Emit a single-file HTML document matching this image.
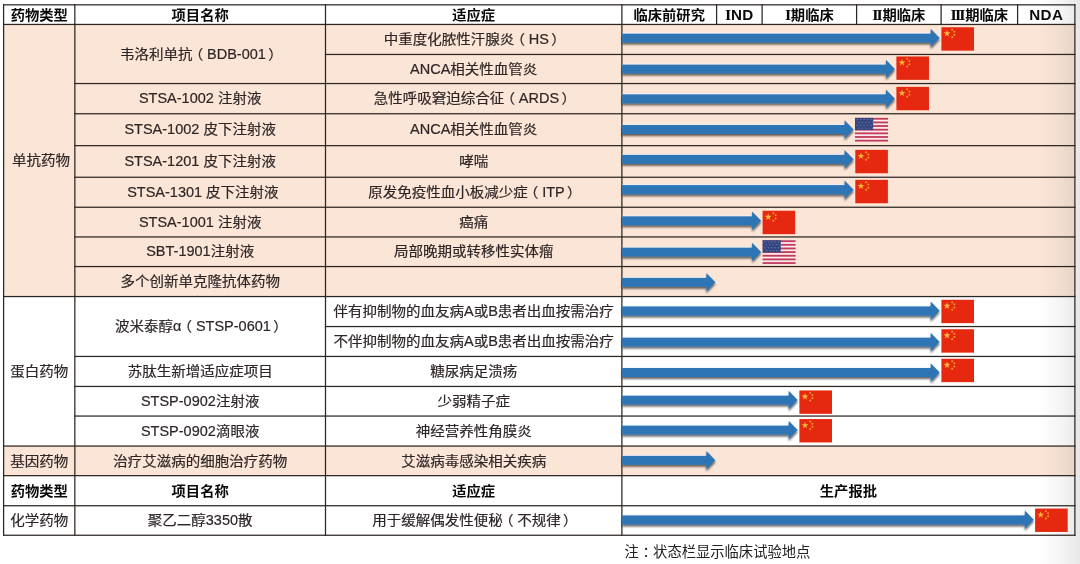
<!DOCTYPE html>
<html lang="zh-CN"><head><meta charset="utf-8"><title>研发管线</title>
<style>
html,body{margin:0;padding:0;background:#fff}
body{width:1080px;height:564px;overflow:hidden;position:relative;font-family:"Liberation Sans","Noto Sans CJK SC",sans-serif}
#pg{position:absolute;left:0;top:0;width:1080px;height:564px;overflow:hidden;background:#fff;filter:blur(0.4px)}
.r,.ln,.t,.h,.ov,.note,.edge{position:absolute}
.ln{background:#2d2723}
.t,.h{display:flex;align-items:center;justify-content:center;white-space:nowrap;line-height:1}
.t{font-size:14.5px;color:#2e2626;-webkit-text-stroke:0.2px #2e2626}
.h{font-size:14.3px;font-weight:bold;color:#0b0908}
.h i{font-family:"Liberation Serif",serif;font-style:normal;font-weight:bold;font-size:16px;letter-spacing:-1.9px;margin-right:1.6px}
.h u{font-family:"Liberation Sans",sans-serif;text-decoration:none;font-size:15.2px;letter-spacing:0.35px}
.h span{position:relative;top:0.4px;display:inline-block;transform:scaleY(0.935)}
.t span{display:inline-block;transform:scaleY(0.925)}
.t em{font-style:normal;display:inline-block;transform:scaleY(1.15);transform-origin:50% 85%}
.t b,.note b{font-weight:normal;position:relative}
.note b{left:3.6px}
.t b.pl{left:-3.8px}
.t b.pr{left:2.3px}
.note{left:624.5px;top:544px;font-size:14.3px;line-height:16px;color:#242020;white-space:nowrap}
.edge{right:0;top:0;width:42px;height:564px;background:linear-gradient(to right,rgba(110,110,110,0),rgba(110,110,110,0.07) 55%,rgba(110,110,110,0.17))}
</style></head><body><div id="pg">
<div class="r" style="left:3.60px;top:24.45px;width:1071.30px;height:272.10px;background:#fbe5d6"></div>
<div class="r" style="left:3.60px;top:446.05px;width:1071.30px;height:29.60px;background:#fbe5d6"></div>
<div class="h" style="left:3.60px;top:4.85px;width:71.25px;height:19.60px"><span>药物类型</span></div>
<div class="h" style="left:74.85px;top:4.85px;width:250.65px;height:19.60px"><span>项目名称</span></div>
<div class="h" style="left:325.50px;top:4.85px;width:296.40px;height:19.60px"><span>适应症</span></div>
<div class="h" style="left:621.90px;top:4.85px;width:94.70px;height:19.60px"><span>临床前研究</span></div>
<div class="h" style="left:716.60px;top:4.85px;width:45.50px;height:19.60px"><span><i>I</i><u>ND</u></span></div>
<div class="h" style="left:762.10px;top:4.85px;width:94.50px;height:19.60px"><span><i>I</i>期临床</span></div>
<div class="h" style="left:856.60px;top:4.85px;width:84.50px;height:19.60px"><span><i>II</i>期临床</span></div>
<div class="h" style="left:941.10px;top:4.85px;width:76.50px;height:19.60px"><span><i>III</i>期临床</span></div>
<div class="h" style="left:1017.60px;top:4.85px;width:57.30px;height:19.60px"><span><u>NDA</u></span></div>
<div class="h" style="left:3.60px;top:475.65px;width:71.25px;height:30.10px"><span>药物类型</span></div>
<div class="h" style="left:74.85px;top:475.65px;width:250.65px;height:30.10px"><span>项目名称</span></div>
<div class="h" style="left:325.50px;top:475.65px;width:296.40px;height:30.10px"><span>适应症</span></div>
<div class="h" style="left:621.90px;top:475.65px;width:453.00px;height:30.10px"><span>生产报批</span></div>
<div class="t" style="left:7.20px;top:24.45px;width:67.65px;height:272.10px"><span>单抗药物</span></div>
<div class="t" style="left:3.60px;top:296.55px;width:71.25px;height:149.50px"><span>蛋白药物</span></div>
<div class="t" style="left:3.60px;top:446.05px;width:71.25px;height:29.60px"><span>基因药物</span></div>
<div class="t" style="left:3.60px;top:505.75px;width:71.25px;height:29.50px"><span>化学药物</span></div>
<div class="t" style="left:74.85px;top:24.45px;width:250.65px;height:59.10px"><span>韦洛利单抗<b class="pl">（</b><em>BDB-001</em><b class="pr">）</b></span></div>
<div class="t" style="left:74.85px;top:83.55px;width:250.65px;height:30.20px"><span><em>STSA-1002</em> 注射液</span></div>
<div class="t" style="left:74.85px;top:113.75px;width:250.65px;height:31.90px"><span><em>STSA-1002</em> 皮下注射液</span></div>
<div class="t" style="left:74.85px;top:145.65px;width:250.65px;height:31.60px"><span><em>STSA-1201</em> 皮下注射液</span></div>
<div class="t" style="left:80.25px;top:177.25px;width:245.25px;height:30.00px"><span><em>STSA-1301</em> 皮下注射液</span></div>
<div class="t" style="left:74.85px;top:207.25px;width:250.65px;height:29.70px"><span><em>STSA-1001</em> 注射液</span></div>
<div class="t" style="left:74.85px;top:236.95px;width:250.65px;height:29.60px"><span><em>SBT-1901</em>注射液</span></div>
<div class="t" style="left:74.85px;top:266.55px;width:250.65px;height:30.00px"><span>多个创新单克隆抗体药物</span></div>
<div class="t" style="left:74.85px;top:296.55px;width:250.65px;height:59.90px"><span>波米泰醇<em>α</em><b class="pl">（</b><em>STSP-0601</em><b class="pr">）</b></span></div>
<div class="t" style="left:74.85px;top:356.45px;width:250.65px;height:30.00px"><span>苏肽生新增适应症项目</span></div>
<div class="t" style="left:74.85px;top:386.45px;width:250.65px;height:29.60px"><span><em>STSP-0902</em>注射液</span></div>
<div class="t" style="left:74.85px;top:416.05px;width:250.65px;height:30.00px"><span><em>STSP-0902</em>滴眼液</span></div>
<div class="t" style="left:74.85px;top:446.05px;width:250.65px;height:29.60px"><span>治疗艾滋病的细胞治疗药物</span></div>
<div class="t" style="left:74.85px;top:505.75px;width:250.65px;height:29.50px"><span>聚乙二醇<em>3350</em>散</span></div>
<div class="t" style="left:325.50px;top:24.45px;width:296.40px;height:30.00px"><span>中重度化脓性汗腺炎<b class="pl">（</b><em>HS</em><b class="pr">）</b></span></div>
<div class="t" style="left:325.50px;top:54.45px;width:296.40px;height:29.10px"><span><em>ANCA</em>相关性血管炎</span></div>
<div class="t" style="left:325.50px;top:83.55px;width:296.40px;height:30.20px"><span>急性呼吸窘迫综合征<b class="pl">（</b><em>ARDS</em><b class="pr">）</b></span></div>
<div class="t" style="left:325.50px;top:113.75px;width:296.40px;height:31.90px"><span><em>ANCA</em>相关性血管炎</span></div>
<div class="t" style="left:325.50px;top:145.65px;width:296.40px;height:31.60px"><span>哮喘</span></div>
<div class="t" style="left:325.50px;top:177.25px;width:296.40px;height:30.00px"><span>原发免疫性血小板减少症<b class="pl">（</b><em>ITP</em><b class="pr">）</b></span></div>
<div class="t" style="left:325.50px;top:207.25px;width:296.40px;height:29.70px"><span>癌痛</span></div>
<div class="t" style="left:325.50px;top:236.95px;width:296.40px;height:29.60px"><span>局部晚期或转移性实体瘤</span></div>
<div class="t" style="left:325.50px;top:296.55px;width:296.40px;height:30.00px"><span>伴有抑制物的血友病<em>A</em>或<em>B</em>患者出血按需治疗</span></div>
<div class="t" style="left:325.50px;top:326.55px;width:296.40px;height:29.90px"><span>不伴抑制物的血友病<em>A</em>或<em>B</em>患者出血按需治疗</span></div>
<div class="t" style="left:325.50px;top:356.45px;width:296.40px;height:30.00px"><span>糖尿病足溃疡</span></div>
<div class="t" style="left:325.50px;top:386.45px;width:296.40px;height:29.60px"><span>少弱精子症</span></div>
<div class="t" style="left:325.50px;top:416.05px;width:296.40px;height:30.00px"><span>神经营养性角膜炎</span></div>
<div class="t" style="left:325.50px;top:446.05px;width:296.40px;height:29.60px"><span>艾滋病毒感染相关疾病</span></div>
<div class="t" style="left:325.50px;top:505.75px;width:296.40px;height:29.50px"><span>用于缓解偶发性便秘<b class="pl">（</b>不规律<b class="pr">）</b></span></div>
<div class="edge"></div>
<svg class="ov" width="1080" height="564" viewBox="0 0 1080 564">
<defs>
<filter id="sh" x="-5%" y="-50%" width="110%" height="220%"><feGaussianBlur in="SourceAlpha" stdDeviation="1.1"/><feOffset dx="0.3" dy="1.6"/><feComponentTransfer><feFuncA type="linear" slope="0.62"/></feComponentTransfer><feMerge><feMergeNode/><feMergeNode in="SourceGraphic"/></feMerge></filter>
<g id="cn"><rect width="32.6" height="23.4" fill="#e5280f"/><polygon fill="#fab83a" points="5.6,2.6 6.45,5.1 9.1,5.1 6.95,6.7 7.75,9.2 5.6,7.65 3.45,9.2 4.25,6.7 2.1,5.1 4.75,5.1"/><circle cx="10.8" cy="2.4" r="1" fill="#f59a28"/><circle cx="13" cy="4.6" r="1" fill="#f59a28"/><circle cx="13" cy="7.8" r="1" fill="#f59a28"/><circle cx="10.8" cy="10" r="1" fill="#f59a28"/></g>
<g id="us"><rect width="33" height="23.7" fill="#fbe9ec"/><rect y="0.00" width="33" height="1.82" fill="#c23b5a"/><rect y="3.65" width="33" height="1.82" fill="#c23b5a"/><rect y="7.29" width="33" height="1.82" fill="#c23b5a"/><rect y="10.94" width="33" height="1.82" fill="#c23b5a"/><rect y="14.58" width="33" height="1.82" fill="#c23b5a"/><rect y="18.23" width="33" height="1.82" fill="#c23b5a"/><rect y="21.88" width="33" height="1.82" fill="#c23b5a"/><rect width="18.2" height="12.1" fill="#34457f"/><circle cx="2.20" cy="1.70" r="0.75" fill="#8f9bc4" opacity="0.55"/><circle cx="5.65" cy="1.70" r="0.75" fill="#8f9bc4" opacity="0.55"/><circle cx="9.10" cy="1.70" r="0.75" fill="#8f9bc4" opacity="0.55"/><circle cx="12.55" cy="1.70" r="0.75" fill="#8f9bc4" opacity="0.55"/><circle cx="16.00" cy="1.70" r="0.75" fill="#8f9bc4" opacity="0.55"/><circle cx="3.90" cy="4.60" r="0.75" fill="#8f9bc4" opacity="0.55"/><circle cx="7.35" cy="4.60" r="0.75" fill="#8f9bc4" opacity="0.55"/><circle cx="10.80" cy="4.60" r="0.75" fill="#8f9bc4" opacity="0.55"/><circle cx="14.25" cy="4.60" r="0.75" fill="#8f9bc4" opacity="0.55"/><circle cx="17.70" cy="4.60" r="0.75" fill="#8f9bc4" opacity="0.55"/><circle cx="2.20" cy="7.50" r="0.75" fill="#8f9bc4" opacity="0.55"/><circle cx="5.65" cy="7.50" r="0.75" fill="#8f9bc4" opacity="0.55"/><circle cx="9.10" cy="7.50" r="0.75" fill="#8f9bc4" opacity="0.55"/><circle cx="12.55" cy="7.50" r="0.75" fill="#8f9bc4" opacity="0.55"/><circle cx="16.00" cy="7.50" r="0.75" fill="#8f9bc4" opacity="0.55"/><circle cx="3.90" cy="10.40" r="0.75" fill="#8f9bc4" opacity="0.55"/><circle cx="7.35" cy="10.40" r="0.75" fill="#8f9bc4" opacity="0.55"/><circle cx="10.80" cy="10.40" r="0.75" fill="#8f9bc4" opacity="0.55"/><circle cx="14.25" cy="10.40" r="0.75" fill="#8f9bc4" opacity="0.55"/><circle cx="17.70" cy="10.40" r="0.75" fill="#8f9bc4" opacity="0.55"/></g>
</defs>
<g fill="#2d2723"><rect x="2.98" y="4.22" width="1072.55" height="1.25"/><rect x="2.98" y="23.82" width="1072.55" height="1.25"/><rect x="324.88" y="53.83" width="750.65" height="1.25"/><rect x="74.22" y="82.92" width="1001.30" height="1.25"/><rect x="74.22" y="113.12" width="1001.30" height="1.25"/><rect x="74.22" y="145.03" width="1001.30" height="1.25"/><rect x="74.22" y="176.62" width="1001.30" height="1.25"/><rect x="74.22" y="206.62" width="1001.30" height="1.25"/><rect x="74.22" y="236.32" width="1001.30" height="1.25"/><rect x="74.22" y="265.93" width="1001.30" height="1.25"/><rect x="2.98" y="295.93" width="1072.55" height="1.25"/><rect x="324.88" y="325.93" width="750.65" height="1.25"/><rect x="74.22" y="355.82" width="1001.30" height="1.25"/><rect x="74.22" y="385.82" width="1001.30" height="1.25"/><rect x="74.22" y="415.43" width="1001.30" height="1.25"/><rect x="2.98" y="445.43" width="1072.55" height="1.25"/><rect x="2.98" y="475.02" width="1072.55" height="1.25"/><rect x="2.98" y="505.12" width="1072.55" height="1.25"/><rect x="2.98" y="534.62" width="1072.55" height="1.25"/><rect x="2.98" y="4.22" width="1.25" height="531.65"/><rect x="74.22" y="4.22" width="1.25" height="531.65"/><rect x="324.88" y="4.22" width="1.25" height="531.65"/><rect x="621.27" y="4.22" width="1.25" height="531.65"/><rect x="1074.27" y="4.22" width="1.25" height="531.65"/><rect x="715.98" y="4.22" width="1.25" height="20.85"/><rect x="761.48" y="4.22" width="1.25" height="20.85"/><rect x="855.98" y="4.22" width="1.25" height="20.85"/><rect x="940.48" y="4.22" width="1.25" height="20.85"/><rect x="1016.98" y="4.22" width="1.25" height="20.85"/></g>
<polygon filter="url(#sh)" fill="#2e75b6" points="622.10,33.50 930.70,33.50 930.70,28.80 939.70,38.05 930.70,47.30 930.70,42.60 622.10,42.60"/>
<rect x="622.70" y="32.50" width="307.40" height="1" fill="#eaf3ff" opacity="0.75"/>
<use href="#cn" x="941.40" y="27.25"/>
<polygon filter="url(#sh)" fill="#2e75b6" points="622.10,64.40 885.90,64.40 885.90,59.70 894.90,68.95 885.90,78.20 885.90,73.50 622.10,73.50"/>
<rect x="622.70" y="63.40" width="262.60" height="1" fill="#eaf3ff" opacity="0.75"/>
<use href="#cn" x="896.40" y="56.45"/>
<polygon filter="url(#sh)" fill="#2e75b6" points="622.10,94.20 885.90,94.20 885.90,89.50 894.90,98.75 885.90,108.00 885.90,103.30 622.10,103.30"/>
<rect x="622.70" y="93.20" width="262.60" height="1" fill="#eaf3ff" opacity="0.75"/>
<use href="#cn" x="896.40" y="86.85"/>
<polygon filter="url(#sh)" fill="#2e75b6" points="622.10,125.00 844.60,125.00 844.60,120.30 853.60,129.55 844.60,138.80 844.60,134.10 622.10,134.10"/>
<rect x="622.70" y="124.00" width="221.30" height="1" fill="#eaf3ff" opacity="0.75"/>
<use href="#us" x="855.00" y="117.85"/>
<polygon filter="url(#sh)" fill="#2e75b6" points="622.10,154.70 844.60,154.70 844.60,150.00 853.60,159.25 844.60,168.50 844.60,163.80 622.10,163.80"/>
<rect x="622.70" y="153.70" width="221.30" height="1" fill="#eaf3ff" opacity="0.75"/>
<use href="#cn" x="855.30" y="149.85"/>
<polygon filter="url(#sh)" fill="#2e75b6" points="622.10,185.10 844.60,185.10 844.60,180.40 853.60,189.65 844.60,198.90 844.60,194.20 622.10,194.20"/>
<rect x="622.70" y="184.10" width="221.30" height="1" fill="#eaf3ff" opacity="0.75"/>
<use href="#cn" x="855.30" y="179.85"/>
<polygon filter="url(#sh)" fill="#2e75b6" points="622.10,216.20 752.10,216.20 752.10,211.50 761.10,220.75 752.10,230.00 752.10,225.30 622.10,225.30"/>
<rect x="622.70" y="215.20" width="128.80" height="1" fill="#eaf3ff" opacity="0.75"/>
<use href="#cn" x="762.60" y="210.75"/>
<polygon filter="url(#sh)" fill="#2e75b6" points="622.10,247.50 752.10,247.50 752.10,242.80 761.10,252.05 752.10,261.30 752.10,256.60 622.10,256.60"/>
<rect x="622.70" y="246.50" width="128.80" height="1" fill="#eaf3ff" opacity="0.75"/>
<use href="#us" x="762.60" y="240.25"/>
<polygon filter="url(#sh)" fill="#2e75b6" points="622.10,277.70 706.40,277.70 706.40,273.00 715.40,282.25 706.40,291.50 706.40,286.80 622.10,286.80"/>
<rect x="622.70" y="276.70" width="83.10" height="1" fill="#eaf3ff" opacity="0.75"/>
<polygon filter="url(#sh)" fill="#2e75b6" points="622.10,306.30 930.70,306.30 930.70,301.60 939.70,310.85 930.70,320.10 930.70,315.40 622.10,315.40"/>
<rect x="622.70" y="305.30" width="307.40" height="1" fill="#eaf3ff" opacity="0.75"/>
<use href="#cn" x="941.40" y="299.75"/>
<polygon filter="url(#sh)" fill="#2e75b6" points="622.10,337.50 930.70,337.50 930.70,332.80 939.70,342.05 930.70,351.30 930.70,346.60 622.10,346.60"/>
<rect x="622.70" y="336.50" width="307.40" height="1" fill="#eaf3ff" opacity="0.75"/>
<use href="#cn" x="941.40" y="329.25"/>
<polygon filter="url(#sh)" fill="#2e75b6" points="622.10,367.90 930.70,367.90 930.70,363.20 939.70,372.45 930.70,381.70 930.70,377.00 622.10,377.00"/>
<rect x="622.70" y="366.90" width="307.40" height="1" fill="#eaf3ff" opacity="0.75"/>
<use href="#cn" x="941.40" y="358.75"/>
<polygon filter="url(#sh)" fill="#2e75b6" points="622.10,395.50 788.70,395.50 788.70,390.80 797.70,400.05 788.70,409.30 788.70,404.60 622.10,404.60"/>
<rect x="622.70" y="394.50" width="165.40" height="1" fill="#eaf3ff" opacity="0.75"/>
<use href="#cn" x="799.40" y="390.45"/>
<polygon filter="url(#sh)" fill="#2e75b6" points="622.10,425.40 788.70,425.40 788.70,420.70 797.70,429.95 788.70,439.20 788.70,434.50 622.10,434.50"/>
<rect x="622.70" y="424.40" width="165.40" height="1" fill="#eaf3ff" opacity="0.75"/>
<use href="#cn" x="799.40" y="419.05"/>
<polygon filter="url(#sh)" fill="#2e75b6" points="622.10,455.70 706.40,455.70 706.40,451.00 715.40,460.25 706.40,469.50 706.40,464.80 622.10,464.80"/>
<rect x="622.70" y="454.70" width="83.10" height="1" fill="#eaf3ff" opacity="0.75"/>
<polygon filter="url(#sh)" fill="#2e75b6" points="622.10,515.30 1024.80,515.30 1024.80,510.60 1033.80,519.85 1024.80,529.10 1024.80,524.40 622.10,524.40"/>
<rect x="622.70" y="514.30" width="401.50" height="1" fill="#eaf3ff" opacity="0.75"/>
<use href="#cn" x="1035.10" y="508.55"/>
</svg>
<div class="note">注<b>：</b>状态栏显示临床试验地点</div>
</div></body></html>
